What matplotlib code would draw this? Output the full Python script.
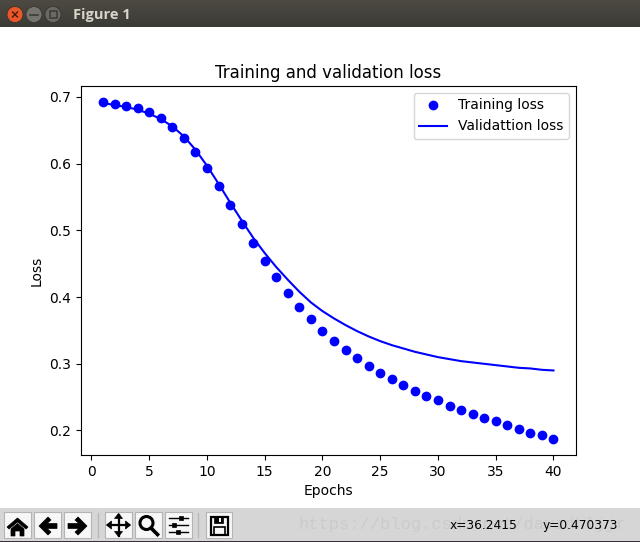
import matplotlib
matplotlib.use("Agg")
import matplotlib.pyplot as plt
from matplotlib.patches import Rectangle, Circle, Polygon
import numpy as np

W, H = 640, 542

epochs = list(range(1, 41))
training_loss = [.692, .689, .686, .683, .677, .668, .655, .638, .617, .593,
                 .566, .538, .509, .481, .454, .430, .406, .385, .367, .349,
                 .334, .320, .308, .296, .286, .277, .268, .259, .251, .245,
                 .236, .230, .224, .218, .214, .208, .202, .197, .193, .188]
validation_loss = [.691, .688, .685, .681, .675, .667, .656, .641, .621, .597,
                   .570, .542, .515, .489, .466, .445, .426, .408, .392, .379,
                   .368, .358, .349, .341, .334, .328, .323, .318, .314, .310,
                   .307, .304, .302, .300, .298, .296, .294, .293, .291, .290]

fig = plt.figure(figsize=(W / 100, H / 100), dpi=100, facecolor="white")

# overlay in pixel coordinates for the window chrome
ov = fig.add_axes([0, 0, 1, 1], zorder=0)
ov.set_xlim(0, W)
ov.set_ylim(H, 0)
ov.axis("off")

# title bar
grad = np.linspace(0, 1, 27).reshape(-1, 1)
c0, c1 = np.array([0.30, 0.29, 0.26]), np.array([0.23, 0.23, 0.21])
ov.imshow(c0 + (c1 - c0) * grad[..., None], extent=(0, W, 27, 0), aspect="auto", zorder=1)
ov.set_xlim(0, W)
ov.set_ylim(H, 0)
for cx, col in [(15, "#e9572b"), (34, "#75746e"), (53, "#6a6963")]:
    ov.add_patch(Circle((cx, 14.5), 8, fc=col, ec="#37362f", lw=0.6, zorder=2))
ov.plot([12.5, 17.5], [12, 17], color="#4a1a08", lw=1, zorder=3)
ov.plot([12.5, 17.5], [17, 12], color="#4a1a08", lw=1, zorder=3)
ov.plot([30, 38], [15, 15], color="#3c3b36", lw=1.2, zorder=3)
ov.add_patch(Rectangle((49.5, 11), 7, 7, fc="none", ec="#3c3b36", lw=1.1, zorder=3))
ov.text(73, 14.5, "Figure 1", color="#d8d4c8", fontsize=10.5, fontweight="bold",
        family="Open Sans", va="center", ha="left", zorder=3)

# toolbar
ov.add_patch(Rectangle((0, 508), W, 33, fc="#d6d6d6", ec="none", zorder=1))
ov.add_patch(Rectangle((0, 541), W, 1, fc="#3a2f3a", ec="none", zorder=1))
ov.text(298, 524, "https://blog.csdn.net/davidhljjr", color="#cbcbcb", fontsize=12.3,
        family="Liberation Mono", va="center", ha="left", zorder=2)
for x0, x1 in [(4, 31), (34, 61), (64, 91), (105, 132), (135, 162), (165, 192), (206, 232)]:
    ov.add_patch(Rectangle((x0, 512), x1 - x0, 26, fc="#f7f7f7", ec="#b4b4b4", lw=0.8, zorder=2))
for x in (98, 198):
    ov.plot([x, x], [513, 537], color="#b8b8b8", lw=1, zorder=2)

ic = dict(fc="black", ec="black", lw=0.5, zorder=3)
# home
ov.add_patch(Polygon([(7, 527), (17.5, 518), (28, 527), (26, 529), (17.5, 522), (9, 529)], **ic))
ov.add_patch(Polygon([(11, 529), (17.5, 523.5), (24, 529), (24, 536), (20, 536), (20, 531),
                      (15, 531), (15, 536), (11, 536)], **ic))
# back / forward
ov.add_patch(Polygon([(39, 526), (48, 517), (51, 520), (47, 523.5), (57, 523.5), (57, 528.5),
                      (47, 528.5), (51, 532), (48, 535)], **ic))
ov.add_patch(Polygon([(87, 526), (78, 517), (75, 520), (79, 523.5), (68, 523.5), (68, 528.5),
                      (79, 528.5), (75, 532), (78, 535)], **ic))
# move
ov.plot([108, 129], [525, 525], color="black", lw=1.6, zorder=3)
ov.plot([118.5, 118.5], [515, 536], color="black", lw=1.6, zorder=3)
for p in ([(118.5, 513.5), (114.5, 518.5), (122.5, 518.5)], [(118.5, 536.5), (114.5, 531.5), (122.5, 531.5)],
          [(106.5, 525), (111.5, 521), (111.5, 529)], [(130.5, 525), (125.5, 521), (125.5, 529)]):
    ov.add_patch(Polygon(p, **ic))
# zoom
ov.add_patch(Circle((146.5, 523), 6.5, fc="none", ec="black", lw=2.2, zorder=3))
ov.plot([151, 157.5], [528, 534.5], color="black", lw=2.6, zorder=3)
# sliders
for y, x in [(518, 181), (525, 174), (532, 178)]:
    ov.plot([169, 188], [y, y], color="black", lw=1, zorder=3)
    ov.add_patch(Rectangle((x - 2, y - 2), 4, 4, **ic))
# save
ov.add_patch(Rectangle((210.5, 516.5), 17, 18, fc="none", ec="black", lw=1.6, zorder=3))
ov.add_patch(Rectangle((214, 517), 9, 6, fc="black", ec="black", lw=0.5, zorder=3))
ov.add_patch(Rectangle((219, 518), 2, 4, fc="#f7f7f7", ec="none", zorder=4))
ov.add_patch(Rectangle((213.5, 526.5), 11, 8, fc="none", ec="black", lw=1.2, zorder=3))

ov.text(450, 529, "x=36.2415", fontsize=8.8, color="black", va="baseline", ha="left", zorder=3)
ov.text(543, 529, "y=0.470373", fontsize=8.8, color="black", va="baseline", ha="left", zorder=3)

# chart
left, right, top, bottom = 80.5, 576, 86, 455
ax = fig.add_axes([left / W, 1 - bottom / H, (right - left) / W, (bottom - top) / H], zorder=2)
ax.plot(epochs, training_loss, "bo", label="Training loss")
ax.plot(epochs, validation_loss, "b", label="Validattion loss")
ax.set_title("Training and validation loss")
ax.set_xlabel("Epochs")
ax.set_ylabel("Loss")
ax.set_xlim(-0.95, 41.95)
ax.set_ylim(0.7 - (455 - 97) / 667, 0.7 + (97 - 86) / 667)
ax.legend(loc="upper right")

fig.savefig("out.png", dpi=100)
